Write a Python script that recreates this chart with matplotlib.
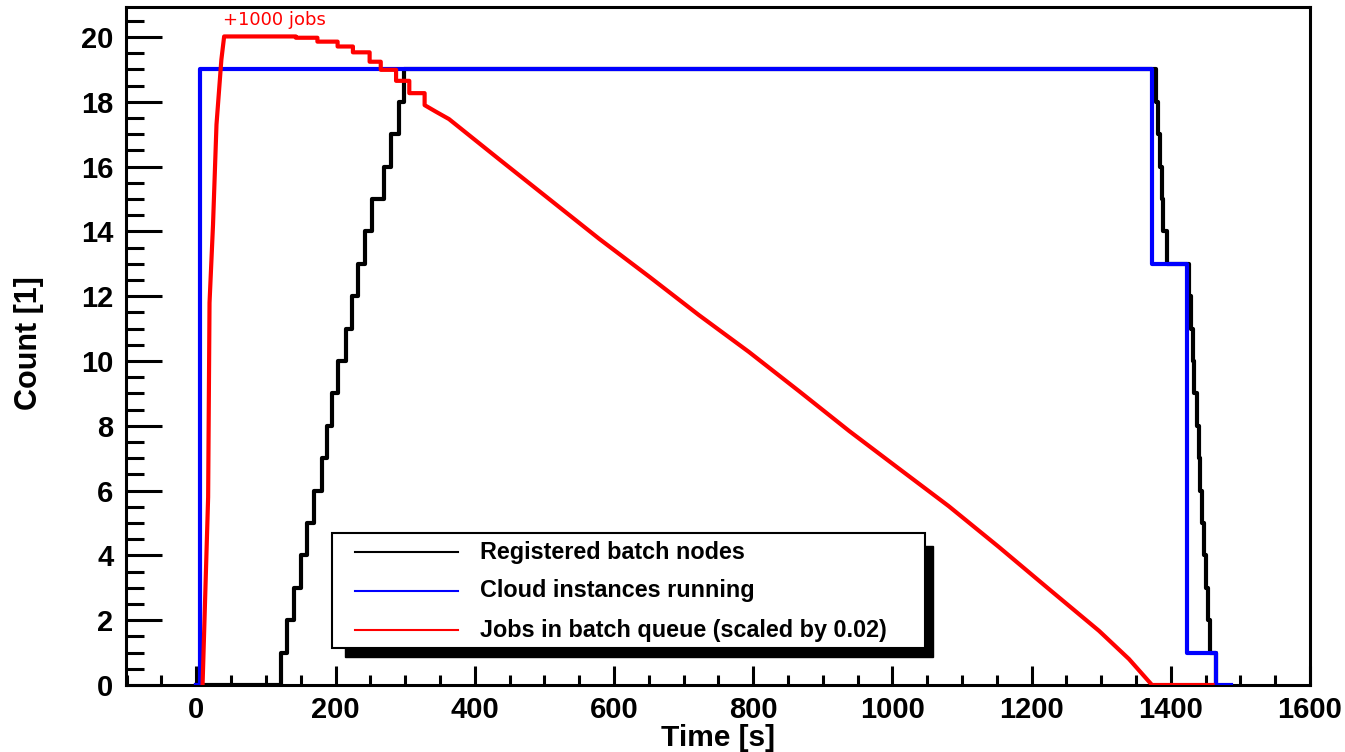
import matplotlib.pyplot as plt
from matplotlib.patches import Rectangle
from matplotlib.lines import Line2D

# Registered batch nodes (steps)
nodes_t = [0, 121, 130, 140, 150, 159, 169, 180, 188, 195, 204, 215, 224, 233, 242, 252, 270, 280, 291, 299,
           1379, 1382, 1384, 1387, 1389, 1394, 1426, 1429, 1432, 1434, 1437, 1440, 1442, 1445, 1448, 1450,
           1453, 1456, 1465]
nodes_v = [0, 1, 2, 3, 4, 5, 6, 7, 8, 9, 10, 11, 12, 13, 14, 15, 16, 17, 18, 19,
           18, 17, 16, 15, 14, 13, 12, 11, 10, 9, 8, 7, 6, 5, 4, 3,
           2, 1, 0]

# Cloud instances running (steps)
cloud_t = [0, 6, 1373, 1424, 1465, 1487]
cloud_v = [0, 19, 13, 1, 0, 0]

# Jobs in batch queue, scaled by 0.02
jobs_t = [9, 17, 19, 24, 29, 36, 40, 143, 143, 174, 174, 203, 203, 225, 225, 249, 249, 265, 265, 287, 287,
          306, 306, 328, 328, 344, 363, 435, 507, 579, 651, 722, 794, 866, 938, 1010, 1081, 1153, 1225,
          1297, 1340, 1373, 1460]
jobs_v = [0, 5.8, 11.8, 14.2, 17.3, 19.3, 20.02, 20.02, 19.98, 19.98, 19.86, 19.86, 19.71, 19.71, 19.53,
          19.53, 19.24, 19.24, 18.99, 18.99, 18.65, 18.65, 18.27, 18.27, 17.9, 17.7, 17.47, 16.23, 15.0,
          13.77, 12.6, 11.42, 10.28, 9.07, 7.84, 6.67, 5.52, 4.26, 2.96, 1.67, 0.8, 0, 0]

labels = ["Registered batch nodes", "Cloud instances running", "Jobs in batch queue (scaled by 0.02)"]
colors = ["black", "#0000ff", "#ff0000"]

W, H = 1345, 752
fig = plt.figure(figsize=(W / 100, H / 100), dpi=100)
ax = fig.add_axes([126 / W, 1 - 685 / H, (1310 - 126) / W, (685 - 7.3) / H])

lw = 3.0
ax.plot(nodes_t, nodes_v, drawstyle='steps-post', color=colors[0], lw=lw, zorder=3)
ax.plot(cloud_t, cloud_v, drawstyle='steps-post', color=colors[1], lw=lw, zorder=4)
ax.plot(jobs_t, jobs_v, color=colors[2], lw=lw, zorder=5)

ax.text(39, 20.53, "+1000 jobs", color='red', fontsize=13, family='DejaVu Sans',
        ha='left', va='center')

ax.set_xlim(-101, 1600)
ax.set_ylim(0, 20.92)
ax.set_xticks(range(0, 1601, 200))
ax.set_xticks(range(-100, 1601, 50), minor=True)
ax.set_yticks(range(0, 21, 2))
ax.set_yticks([i * 0.5 for i in range(0, 42)], minor=True)

font = 'Liberation Sans'
ax.tick_params(axis='both', which='both', direction='in', width=2.2, color='black')
ax.tick_params(axis='y', which='major', length=26, pad=9)
ax.tick_params(axis='y', which='minor', length=13)
ax.tick_params(axis='x', which='major', length=14, pad=8)
ax.tick_params(axis='x', which='minor', length=7)
for lab in ax.get_xticklabels() + ax.get_yticklabels():
    lab.set_fontfamily(font)
    lab.set_fontweight('bold')
    lab.set_fontsize(21)

for sp in ax.spines.values():
    sp.set_linewidth(2.2)

ax.set_xlabel("Time [s]", fontsize=21.5, fontweight='bold', family=font)
ax.set_ylabel("Count [1]", fontsize=22, fontweight='bold', family=font)
ax.xaxis.set_label_coords(0.5, (685 - 724) / 678)
ax.yaxis.set_label_coords((44 - 126) / 1184, 0.505)

# legend box with black shadow (ROOT style)
def fx(px):
    return px / W

def fy(py):
    return 1 - py / H

fig.add_artist(Rectangle((fx(345), fy(657)), fx(933) - fx(345), fy(546) - fy(657),
                         transform=fig.transFigure, facecolor='black', edgecolor='black', zorder=10))
fig.add_artist(Rectangle((fx(332), fy(648)), fx(925) - fx(332), fy(533) - fy(648),
                         transform=fig.transFigure, facecolor='white', edgecolor='black', lw=1.5, zorder=11))
for i, (lab, c) in enumerate(zip(labels, colors)):
    yy = fy(552 + 39 * i)
    fig.add_artist(Line2D([fx(355), fx(458)], [yy, yy], transform=fig.transFigure, color=c, lw=1.5, zorder=12))
    fig.text(fx(480), yy, lab, fontsize=16.8, fontweight='bold', family=font, ha='left', va='center', zorder=12)

fig.savefig('out.png', dpi=100)
